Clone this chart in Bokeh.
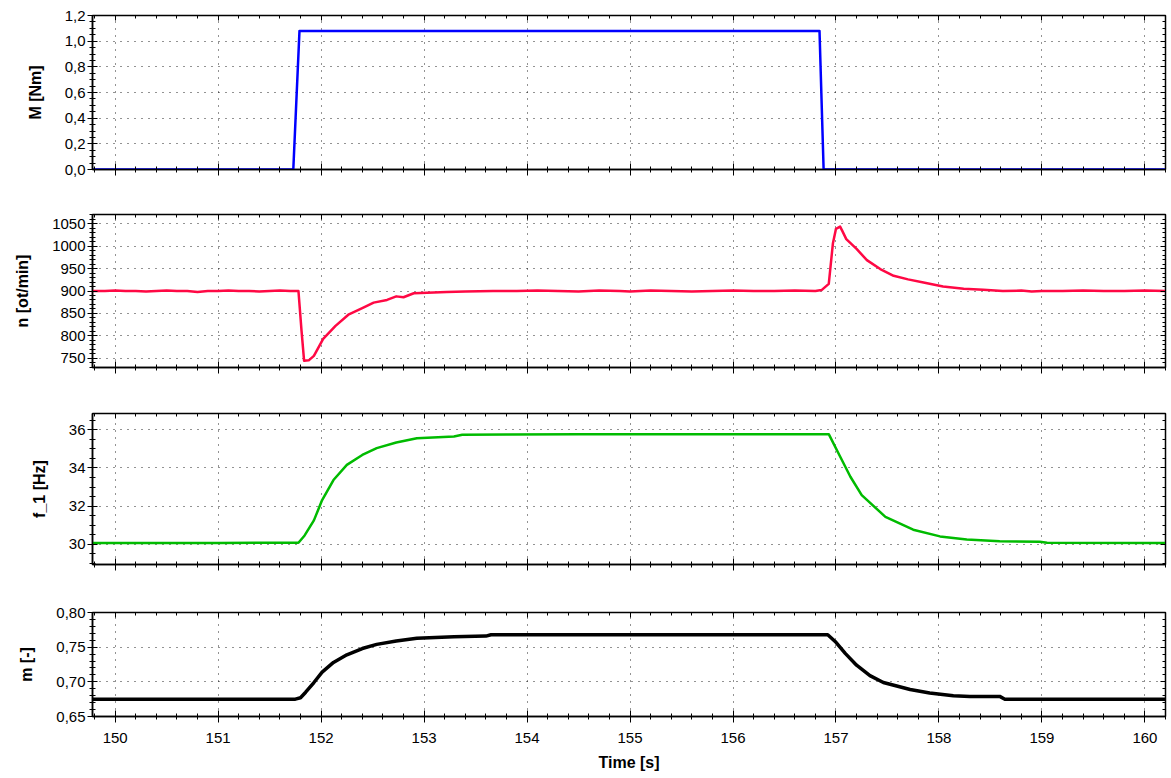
from bokeh.plotting import figure
from bokeh.models import LinearAxis, SingleIntervalTicker, Range1d, CustomJSTickFormatter
from bokeh.layouts import column
from bokeh.embed import file_html
from bokeh.resources import INLINE

# ---------------- data ----------------
t_M = [149.78, 151.73, 151.79, 156.84, 156.88, 160.2]
M_vals = [0.0, 0.0, 1.08, 1.08, 0.0, 0.0]

t_n = [149.78, 149.9, 150.0, 150.1, 150.2, 150.3, 150.4, 150.5, 150.6, 150.7, 150.8, 150.9,
       151.0, 151.1, 151.2, 151.3, 151.4, 151.5, 151.6, 151.7, 151.78, 151.81, 151.835, 151.88,
       151.93, 152.02, 152.14, 152.27, 152.41, 152.51, 152.64, 152.73, 152.80, 152.90, 153.03,
       153.22, 153.4, 153.67, 153.9, 154.1, 154.3, 154.5, 154.7, 154.9, 155.0, 155.2, 155.4,
       155.6, 155.8, 156.0, 156.2, 156.4, 156.6, 156.8, 156.86, 156.93, 156.97, 157.00, 157.04,
       157.06, 157.10, 157.20, 157.30, 157.43, 157.56, 157.70, 157.85, 158.04, 158.24, 158.43,
       158.62, 158.8, 158.9, 159.0, 159.2, 159.4, 159.6, 159.8, 160.0, 160.2]
n_vals = [900, 900, 901, 900, 900, 899, 900, 901, 900, 900, 898, 900,
          900, 901, 900, 900, 899, 900, 901, 900, 900, 811, 744, 745,
          755, 793, 822, 848, 863, 874, 880, 888, 886, 895, 896,
          898, 899, 900, 900, 901, 900, 899, 901, 900, 899, 901, 900,
          899, 900, 901, 900, 900, 901, 900, 902, 916, 1006, 1039, 1044,
          1035, 1016, 994, 969, 949, 934, 926, 919, 910, 905, 903,
          900, 901, 899, 900, 900, 901, 900, 900, 901, 900]

t_f = [149.78, 151.0, 151.60, 151.78, 151.84, 151.93, 152.01, 152.12, 152.25, 152.40, 152.54,
       152.73, 152.93, 153.29, 153.37, 153.80, 154.5, 155.5, 156.5, 156.93, 157.04, 157.14,
       157.25, 157.48, 157.75, 158.01, 158.27, 158.59, 158.98, 159.05, 160.2]
f_vals = [30.08, 30.08, 30.09, 30.09, 30.47, 31.26, 32.32, 33.37, 34.16, 34.68, 35.04,
          35.33, 35.56, 35.65, 35.74, 35.75, 35.76, 35.76, 35.77, 35.77, 34.60, 33.54,
          32.58, 31.44, 30.77, 30.42, 30.26, 30.16, 30.14, 30.09, 30.08]

t_m = [149.78, 151.75, 151.80, 151.85, 151.93, 152.01, 152.12, 152.25, 152.40, 152.54, 152.73,
       152.93, 153.29, 153.60, 153.65, 156.92, 157.00, 157.09, 157.20, 157.33, 157.46, 157.72,
       157.91, 158.14, 158.30, 158.59, 158.64, 160.2]
m_vals = [0.675, 0.675, 0.677, 0.685, 0.699, 0.714, 0.728, 0.739, 0.748, 0.754, 0.759,
          0.763, 0.765, 0.766, 0.768, 0.768, 0.757, 0.741, 0.724, 0.709, 0.699, 0.689,
          0.684, 0.680, 0.679, 0.679, 0.675, 0.675]

x_tick_labels = ["150", "151", "152", "153", "154", "155", "156", "157", "158", "159", "160"]

FONT = "Liberation Sans"
X_RANGE = Range1d(149.78, 160.2)
FRAME_W = 1073


def hide_labels(ax):
    # tick-only axes: labels are not painted at all (no text colour)
    ax.major_label_text_font_size = "1px"
    ax.major_label_text_color = None
    ax.major_label_standoff = 0


def make_fig(frame_h, btop, bbot, yr, yint, ynminor, decimals, ylabel, line_x, line_y,
             color, lw, last=False):
    p = figure(frame_width=FRAME_W, frame_height=frame_h, output_backend="svg",
               toolbar_location=None, x_range=X_RANGE, y_range=Range1d(*yr),
               min_border_left=92, min_border_right=5, min_border_top=btop,
               min_border_bottom=bbot)
    p.background_fill_color = "white"
    p.border_fill_color = "white"
    p.outline_line_color = "black"
    p.outline_line_width = 1.5

    def xt():
        return SingleIntervalTicker(interval=1, num_minor_ticks=5)

    def yt():
        return SingleIntervalTicker(interval=yint, num_minor_ticks=ynminor)

    # bottom axis
    xa = p.xaxis[0]
    xa.ticker = xt()
    xa.major_tick_in = 6
    xa.major_tick_out = 6
    xa.minor_tick_in = 3
    xa.minor_tick_out = 3
    xa.axis_line_color = "black"
    xa.major_tick_line_color = "black"
    xa.minor_tick_line_color = "black"
    xa.axis_line_width = 1.5
    if last:
        xa.major_label_text_font = FONT
        xa.major_label_text_font_size = "15px"
        xa.major_label_text_color = "black"
        xa.major_label_standoff = 10
        xa.major_label_overrides = {150 + i: lab for i, lab in enumerate(x_tick_labels)}
        xa.axis_label = "Time [s]"
        xa.axis_label_text_font = FONT
        xa.axis_label_text_font_size = "16px"
        xa.axis_label_text_font_style = "bold"
        xa.axis_label_text_color = "black"
        xa.axis_label_standoff = 8
    else:
        hide_labels(xa)

    # left axis
    ya = p.yaxis[0]
    ya.ticker = yt()
    if decimals:
        ya.formatter = CustomJSTickFormatter(
            code="return tick.toFixed(%d).replace('.', ',');" % decimals)
    ya.major_tick_in = 5
    ya.major_tick_out = 5
    ya.minor_tick_in = 3
    ya.minor_tick_out = 3
    ya.axis_line_color = "black"
    ya.axis_line_width = 1.5
    ya.major_tick_line_color = "black"
    ya.minor_tick_line_color = "black"
    ya.major_label_text_font = FONT
    ya.major_label_text_font_size = "15px"
    ya.major_label_text_color = "black"
    ya.major_label_standoff = 2
    ya.axis_label = ylabel
    ya.axis_label_text_font = FONT
    ya.axis_label_text_font_size = "16px"
    ya.axis_label_text_font_style = "bold"
    ya.axis_label_text_color = "black"
    ya.axis_label_standoff = 18

    # mirrored axes (ticks only)
    top = LinearAxis(ticker=xt(), major_tick_in=5, major_tick_out=0, minor_tick_in=3,
                     minor_tick_out=0, axis_line_color="black", major_tick_line_color="black",
                     minor_tick_line_color="black")
    hide_labels(top)
    p.add_layout(top, "above")
    right = LinearAxis(ticker=yt(), major_tick_in=5, major_tick_out=0, minor_tick_in=3,
                       minor_tick_out=0, axis_line_color="black", major_tick_line_color="black",
                       minor_tick_line_color="black")
    hide_labels(right)
    p.add_layout(right, "right")

    p.xgrid.ticker = xa.ticker
    p.ygrid.ticker = ya.ticker
    p.xgrid.grid_line_color = "black"
    p.xgrid.grid_line_alpha = 0.85
    p.xgrid.grid_line_dash = "1 6"
    p.ygrid.grid_line_color = "black"
    p.ygrid.grid_line_alpha = 0.85
    p.ygrid.grid_line_dash = "1 6"

    p.line(line_x, line_y, line_color=color, line_width=lw, line_join="round")
    return p


p1 = make_fig(154, 15, 22, (0.0, 1.2000001), 0.2, 4, 1, "M [Nm]", t_M, M_vals, "#0000ff", 2.5)
p2 = make_fig(153, 23, 23, (729, 1071), 50, 5, 0, "n [ot/min]", t_n, n_vals, "#ff0844", 2.5)
p3 = make_fig(151, 23, 24, (28.95, 36.85), 2, 4, 0, "f_1 [Hz]", t_f, f_vals, "#00bb00", 2.5)
p4 = make_fig(104, 24, 50, (0.65, 0.80), 0.05, 5, 2, "m [-]", t_m, m_vals, "#000000", 3.5,
              last=True)

layout = column(p1, p2, p3, p4, spacing=0)
open("out.html", "w").write(file_html(layout, INLINE))
